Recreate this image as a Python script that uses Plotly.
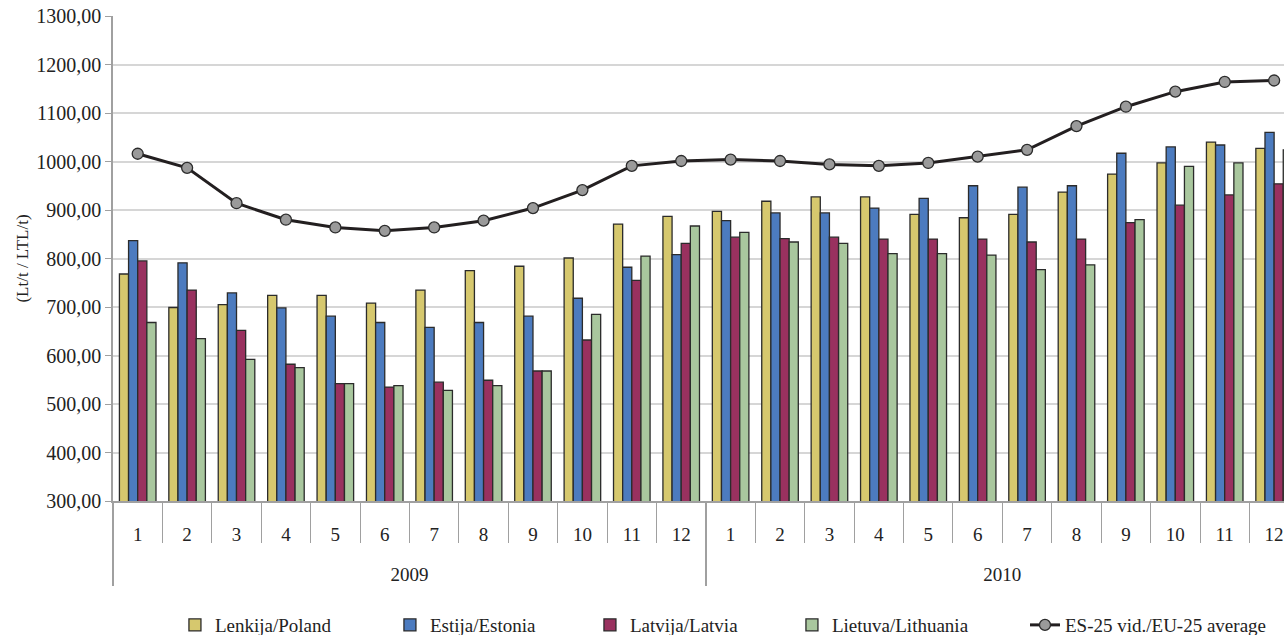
import plotly.graph_objects as go

years = ["<br><span style='baseline-shift:-8px'>2009</span>"] * 12 + \
        ["<br><span style='baseline-shift:-8px'>2010</span>"] * 12
months = [str(m) for m in range(1, 13)] * 2

poland = [768, 699, 705, 724, 724, 708, 735, 775, 784, 801, 871, 887,
          897, 918, 927, 927, 891, 884, 891, 937, 974, 997, 1040, 1027]
estonia = [837, 791, 729, 698, 681, 668, 658, 668, 681, 718, 782, 808,
           878, 894, 894, 904, 924, 950, 947, 950, 1017, 1030, 1034, 1060]
latvia = [795, 735, 652, 582, 542, 535, 545, 549, 568, 632, 755, 831,
          844, 841, 844, 840, 840, 840, 834, 840, 874, 910, 931, 954]
lithuania = [668, 635, 592, 575, 542, 538, 528, 538, 568, 685, 805, 867,
             854, 834, 831, 810, 810, 807, 777, 787, 880, 990, 997, 1024]
eu_average = [1016, 987, 914, 880, 864, 857, 864, 878, 904, 941, 991, 1001,
              1004, 1001, 994, 991, 997, 1010, 1024, 1073, 1113, 1144, 1164, 1167]

x = [years, months]
font = "Liberation Serif, Times New Roman, serif"

fig = go.Figure()
bars = [("Lenkija/Poland", poland, "#d6c86e"),
        ("Estija/Estonia", estonia, "#4c7bbf"),
        ("Latvija/Latvia", latvia, "#99315f"),
        ("Lietuva/Lithuania", lithuania, "#a9c79e")]
legend_ids = ["legend", "legend2", "legend3", "legend4", "legend5"]
legend_x = [0.0529, 0.2365, 0.4073, 0.5798, 0.7788]

for (name, vals, col), lg in zip(bars, legend_ids):
    fig.add_trace(go.Bar(x=x, y=vals, name=name, legend=lg,
                         marker=dict(color=col, line=dict(color="#2b2b2b", width=1.3))))

fig.add_trace(go.Scatter(x=x, y=eu_average, name="ES-25 vid./EU-25 average",
                         legend="legend5", mode="lines+markers",
                         line=dict(color="#231f20", width=3),
                         marker=dict(size=11, color="#9a9a9a",
                                     line=dict(color="#2b2b2b", width=1.3))))

fig.update_layout(
    width=1284, height=635,
    margin=dict(l=113, r=0, t=16, b=134),
    plot_bgcolor="white", paper_bgcolor="white",
    font=dict(family=font, size=19, color="#222"),
    separators=", ",
    barmode="group", bargap=0.26, bargroupgap=0,
    showlegend=True,
)
for lg, lx in zip(legend_ids, legend_x):
    fig.update_layout({lg: dict(orientation="h", x=lx, y=0.0157, yref="container",
                                xanchor="left", yanchor="middle", font=dict(size=19),
                                bgcolor="rgba(0,0,0,0)")})

fig.update_yaxes(range=[300, 1300], dtick=100, tickformat=".2f",
                 showgrid=True, gridcolor="#d6d6d6", gridwidth=1.5,
                 showline=True, linecolor="#a0a0a0", linewidth=1.5,
                 ticks="outside", ticklen=6, tickcolor="#a0a0a0",
                 automargin=False, tickfont=dict(size=20), ticklabeloverflow="allow",
                 title=dict(text="(Lt/t / LTL/t)", font=dict(size=17), standoff=3))
fig.update_xaxes(type="multicategory", range=[-0.5, 23.2],
                 showline=True, linecolor="#a0a0a0", linewidth=1.5,
                 ticks="outside", ticklen=40, tickcolor="#a0a0a0",
                 dividercolor="#a0a0a0", dividerwidth=1.5,
                 ticklabelstandoff=15, automargin=False,
                 tickfont=dict(size=19))

# drop the default 8px page margin so the figure sits at the window's corner
fig.write_html("out.html", config={"displayModeBar": False},
               post_script="document.body.style.margin='0';")
